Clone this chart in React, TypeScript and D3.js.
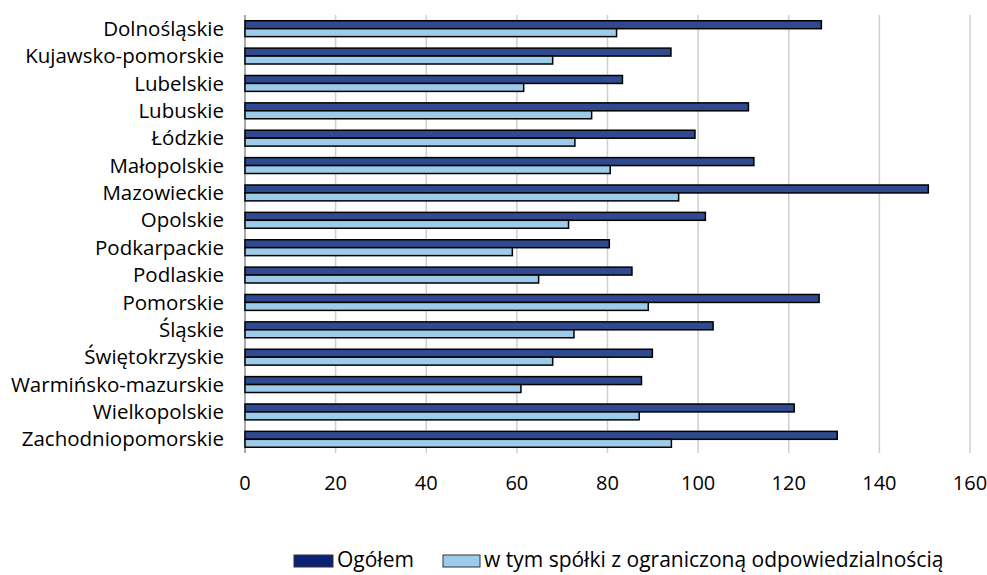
import React, { useRef, useEffect } from 'react';
import * as d3 from 'd3';

const regions = [
  'Dolnośląskie',
  'Kujawsko-pomorskie',
  'Lubelskie',
  'Lubuskie',
  'Łódzkie',
  'Małopolskie',
  'Mazowieckie',
  'Opolskie',
  'Podkarpackie',
  'Podlaskie',
  'Pomorskie',
  'Śląskie',
  'Świętokrzyskie',
  'Warmińsko-mazurskie',
  'Wielkopolskie',
  'Zachodniopomorskie',
];

// Ogółem
const totalValues = [127.2, 94.0, 83.3, 111.1, 99.3, 112.3, 150.8, 101.6, 80.4, 85.4, 126.7, 103.3, 89.9, 87.5, 121.2, 130.7];
// w tym spółki z o.o.
const llcValues = [82.0, 67.9, 61.5, 76.5, 72.8, 80.6, 95.7, 71.4, 59.0, 64.8, 89.0, 72.6, 67.9, 60.9, 87.0, 94.1];

const xTicks = [0, 20, 40, 60, 80, 100, 120, 140, 160];

const seriesNames = ['Ogółem', 'w tym spółki z ograniczoną odpowiedzialnością'];

const WIDTH = 987;
const HEIGHT = 575;
const FONT = '"Open Sans", "DejaVu Sans", sans-serif';

const App: React.FC = () => {
  const ref = useRef<SVGSVGElement>(null);

  useEffect(() => {
    if (!ref.current) return;
    const svg = d3.select(ref.current);
    svg.selectAll('*').remove();

    const x = d3.scaleLinear().domain([0, 160]).range([245, 970]);
    const y = d3
      .scaleBand<string>()
      .domain(regions)
      .range([15, 453])
      .paddingInner(0.42)
      .paddingOuter(0.21);
    const half = y.bandwidth() / 2;

    // grid lines
    svg
      .append('g')
      .selectAll('line')
      .data(xTicks.slice(1))
      .join('line')
      .attr('x1', (d) => x(d))
      .attr('x2', (d) => x(d))
      .attr('y1', 15)
      .attr('y2', 453)
      .attr('stroke', '#cfcfcf')
      .attr('stroke-width', 1.5);

    // axis line at zero
    svg
      .append('line')
      .attr('x1', x(0))
      .attr('x2', x(0))
      .attr('y1', 15)
      .attr('y2', 453)
      .attr('stroke', '#8c8c8c')
      .attr('stroke-width', 1.5);

    const rows = svg
      .append('g')
      .selectAll('g')
      .data(regions)
      .join('g')
      .attr('transform', (d) => `translate(0,${y(d)})`);

    rows
      .append('rect')
      .attr('x', x(0))
      .attr('y', 0)
      .attr('width', (_, i) => x(totalValues[i]) - x(0))
      .attr('height', half)
      .attr('fill', '#2f4a8e')
      .attr('stroke', '#000')
      .attr('stroke-width', 1.5);

    rows
      .append('rect')
      .attr('x', x(0))
      .attr('y', half)
      .attr('width', (_, i) => x(llcValues[i]) - x(0))
      .attr('height', half)
      .attr('fill', '#9dcbea')
      .attr('stroke', '#000')
      .attr('stroke-width', 1.5);

    // category labels
    svg
      .append('g')
      .selectAll('text')
      .data(regions)
      .join('text')
      .attr('x', 224)
      .attr('y', (d) => (y(d) as number) + y.bandwidth() / 2)
      .attr('dy', '0.35em')
      .attr('text-anchor', 'end')
      .attr('font-family', FONT)
      .attr('font-size', 20.5)
      .attr('fill', '#000')
      .text((d) => d);

    // x tick labels
    svg
      .append('g')
      .selectAll('text')
      .data(xTicks)
      .join('text')
      .attr('x', (d) => x(d))
      .attr('y', 483)
      .attr('dy', '0.35em')
      .attr('text-anchor', 'middle')
      .attr('font-family', FONT)
      .attr('font-size', 20)
      .attr('fill', '#000')
      .text((d) => d);

    // legend
    const legend = svg.append('g');
    const legendItems = [
      { name: seriesNames[0], x: 294, w: 39, fill: '#0b2372' },
      { name: seriesNames[1], x: 443, w: 37, fill: '#9dcbea' },
    ];
    legendItems.forEach((it) => {
      legend
        .append('rect')
        .attr('x', it.x)
        .attr('y', 555)
        .attr('width', it.w)
        .attr('height', 12)
        .attr('fill', it.fill)
        .attr('stroke', '#333')
        .attr('stroke-width', 1);
      legend
        .append('text')
        .attr('x', it.x + it.w + 4)
        .attr('y', 560)
        .attr('dy', '0.35em')
        .attr('font-family', FONT)
        .attr('font-size', 21)
        .attr('fill', '#000')
        .text(it.name);
    });
  }, []);

  return (
    <svg
      ref={ref}
      width={WIDTH}
      height={HEIGHT}
      style={{ position: 'absolute', left: 0, top: 0, background: '#fff' }}
    />
  );
};

export default App;
